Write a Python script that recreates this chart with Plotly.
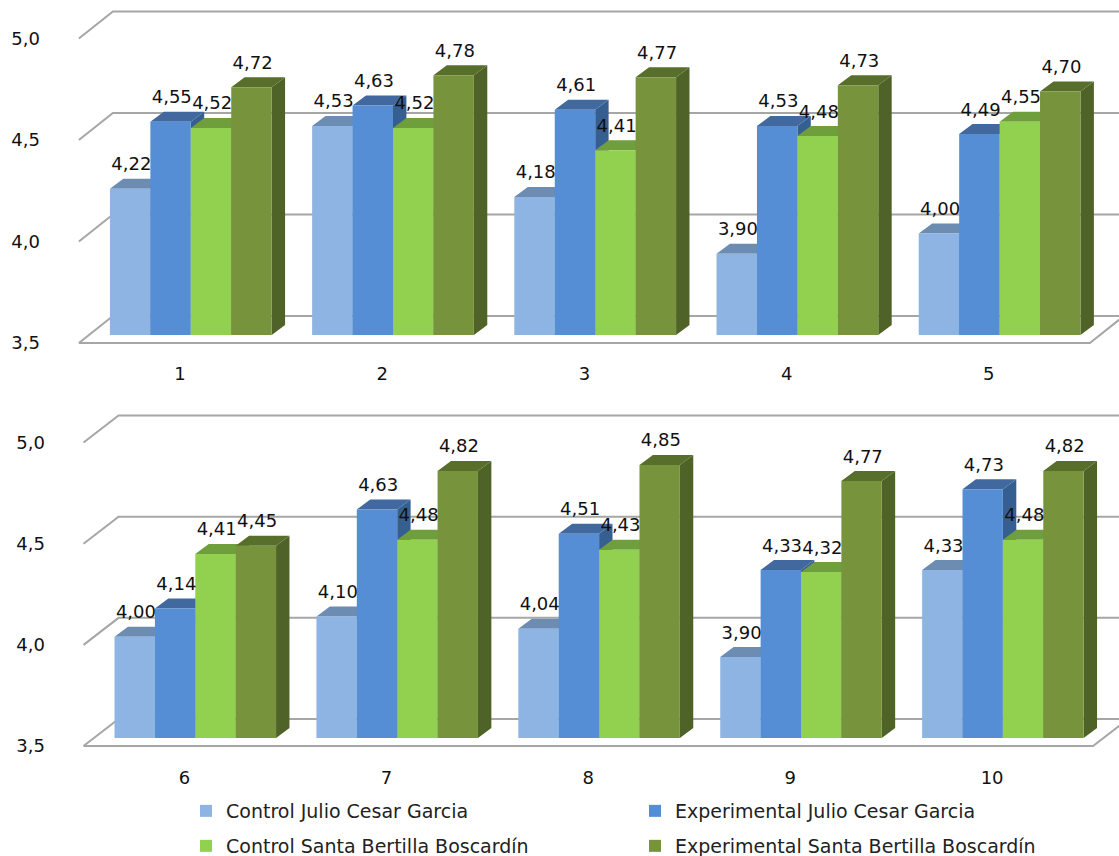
import plotly.graph_objects as go

# ---- data ----
groups_top = [1, 2, 3, 4, 5]
groups_bottom = [6, 7, 8, 9, 10]
series_names = [
    "Control Julio Cesar Garcia",
    "Experimental Julio Cesar Garcia",
    "Control Santa Bertilla Boscardín",
    "Experimental Santa Bertilla Boscardín",
]
control_julio = [4.22, 4.53, 4.18, 3.90, 4.00, 4.00, 4.10, 4.04, 3.90, 4.33]
experimental_julio = [4.55, 4.63, 4.61, 4.53, 4.49, 4.14, 4.63, 4.51, 4.33, 4.73]
control_santa = [4.52, 4.52, 4.41, 4.48, 4.55, 4.41, 4.48, 4.43, 4.32, 4.48]
experimental_santa = [4.72, 4.78, 4.77, 4.73, 4.70, 4.45, 4.82, 4.85, 4.77, 4.82]
y_ticks = [3.5, 4.0, 4.5, 5.0]

# ---- styles ----
FRONT = ["#8DB4E2", "#558ED5", "#92D050", "#77933C"]
TOP = ["#6C8CB2", "#41699F", "#6F9E3C", "#586F2C"]
SIDE = ["#5E7FA6", "#365F91", "#5F8A34", "#4F6228"]
GRID = "#A6A6A6"
FONT = "DejaVu Sans"
FS = 18
LEG_FS = 19
INK = "#111111"
W, H = 1119, 856
SERIES = [control_julio, experimental_julio, control_santa, experimental_santa]

fig = go.Figure()
layout = {}


def panel(groups, start, xa, y1, y2, y3, L, T, B, x_first, x_step, y_front, y_bar, scale, wall_dx, wall_dy):
    """Draw one pseudo-3D panel. Pixel-sized depth offsets get converted to axis units."""
    px_x = 1.0 / x_step
    px_y = 1.0 / scale
    g0 = groups[0]
    x_rng = [g0 + (L - x_first) * px_x, g0 + (W - x_first) * px_x]
    f_rng = [3.5 - (B - y_front) * px_y, 3.5 + (y_front - T) * px_y]
    b_rng = [3.5, 3.5 + (y_bar - T) * px_y]
    dom_y = [1 - B / H, 1 - T / H]
    dom_bar = [1 - y_bar / H, 1 - T / H]
    layout["xaxis" + xa[1:]] = dict(
        domain=[L / W, 1], range=x_rng, anchor=y1, tickvals=groups, ticktext=[str(g) for g in groups],
        showgrid=False, zeroline=False, showline=False, ticks="", tickfont=dict(family=FONT, size=FS, color=INK),
    )
    layout["yaxis" + y1[1:]] = dict(
        domain=dom_y, range=f_rng, anchor=xa, tickvals=y_ticks, tickformat=".1f",
        showgrid=False, zeroline=False, showline=False, ticks="", tickfont=dict(family=FONT, size=FS, color=INK),
    )
    layout["yaxis" + y2[1:]] = dict(domain=dom_bar, range=b_rng, anchor=xa, visible=False)
    layout["yaxis" + y3[1:]] = dict(domain=dom_bar, range=b_rng, anchor=xa, overlaying=y2, visible=False)
    # walls and floor on the front-plane axis
    x_lo = g0 - 0.5
    x_hi = groups[-1] + 0.5
    ddx = wall_dx * px_x
    ddy = wall_dy * px_y
    xs, ys = [], []
    for t in y_ticks:
        xs += [x_lo, x_lo + ddx, x_rng[1] + 1, None]
        ys += [t, t + ddy, t + ddy, None]
    xs += [x_lo, x_hi, x_hi + ddx, None]
    ys += [3.5, 3.5, 3.5 + ddy, None]
    fig.add_trace(go.Scatter(x=xs, y=ys, mode="lines", line=dict(color=GRID, width=2), xaxis=xa, yaxis=y1,
                             showlegend=False, hoverinfo="skip"))
    # bars: side and top faces first, front faces on a later overlay
    w = 0.2
    shift = 10.8 * px_x
    sdx = 13.4 * px_x
    sdy = 10 * px_y
    for i, series in enumerate(SERIES):
        vals = series[start:start + 5]
        off = (i - 2) * w + shift
        sx, sy, tx, ty = [], [], [], []
        for g, v in zip(groups, vals):
            r = g + off + w
            l = g + off
            sx += [r, r, r + sdx, r + sdx, r, None]
            sy += [3.5, v, v + sdy, 3.5 + sdy, 3.5, None]
            tx += [l, r, r + sdx, l + sdx, l, None]
            ty += [v, v, v + sdy, v + sdy, v, None]
        fig.add_trace(go.Scatter(x=sx, y=sy, mode="lines", fill="toself", fillcolor=SIDE[i], line=dict(width=0),
                                 xaxis=xa, yaxis=y2, showlegend=False, hoverinfo="skip", cliponaxis=False))
        fig.add_trace(go.Scatter(x=tx, y=ty, mode="lines", fill="toself", fillcolor=TOP[i], line=dict(width=0),
                                 xaxis=xa, yaxis=y2, showlegend=False, hoverinfo="skip", cliponaxis=False))
    for i, series in enumerate(SERIES):
        vals = series[start:start + 5]
        off = (i - 2) * w + shift
        if start == 0:
            kw = dict(showlegend=True, legend="legend" if i < 2 else "legend2", legendgroup=str(i))
        else:
            kw = dict(showlegend=False, legendgroup=str(i))
        fig.add_trace(go.Bar(x=groups, y=vals, width=w, offset=off, name=series_names[i],
                             marker=dict(color=FRONT[i], line=dict(width=0)), xaxis=xa, yaxis=y3, **kw))
    for i, series in enumerate(SERIES):
        vals = series[start:start + 5]
        off = (i - 2) * w + shift
        fig.add_trace(go.Scatter(
            x=[g + off + w / 2 + 1.2 * px_x for g in groups],
            y=[v + 23 * px_y for v in vals],
            text=[f"{v:.2f}".replace(".", ",") for v in vals],
            mode="text", textposition="middle center",
            textfont=dict(family=FONT, size=FS, color=INK),
            xaxis=xa, yaxis=y3, showlegend=False, hoverinfo="skip", cliponaxis=False,
        ))


panel(groups_top, 0, "x", "y", "y2", "y3", L=41, T=0, B=361, x_first=180, x_step=202.2,
      y_front=343, y_bar=335, scale=203, wall_dx=34, wall_dy=27)
panel(groups_bottom, 5, "x2", "y4", "y5", "y6", L=46, T=400, B=765, x_first=184.5, x_step=201.9,
      y_front=746, y_bar=738, scale=202.3, wall_dx=35, wall_dy=27)

legend_style = dict(orientation="h", xref="container", yref="container", xanchor="left", yanchor="middle",
                    entrywidth=404, entrywidthmode="pixels", font=dict(family=FONT, size=LEG_FS, color="#222222"),
                    bgcolor="rgba(0,0,0,0)")
fig.update_layout(
    width=W, height=H, margin=dict(l=0, r=0, t=0, b=0, autoexpand=False), paper_bgcolor="white",
    plot_bgcolor="rgba(0,0,0,0)",
    separators=", ", barmode="overlay", font=dict(family=FONT, size=FS, color=INK), showlegend=True,
    legend=dict(x=186 / W, y=1 - 811 / H, **legend_style),
    legend2=dict(x=186 / W, y=1 - 846 / H, **legend_style),
    **layout,
)

fig.write_html("out.html", config={"displayModeBar": False}, post_script="document.body.style.margin='0';")
